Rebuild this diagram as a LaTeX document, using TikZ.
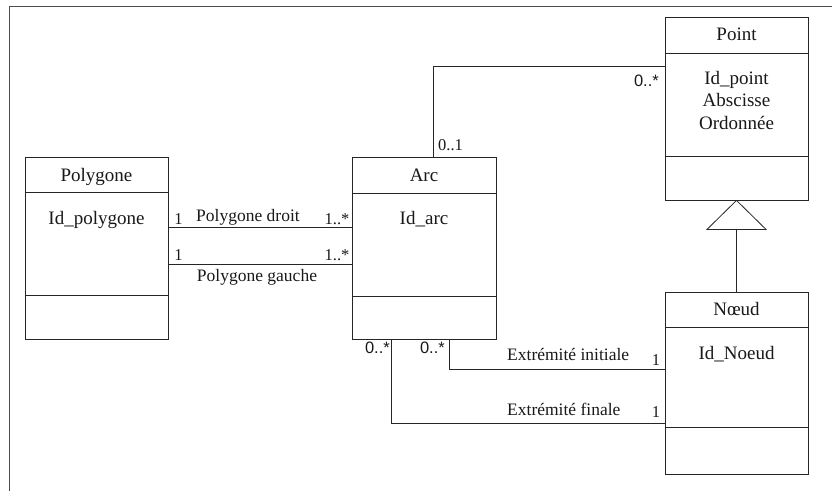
\documentclass[tikz,border=0pt]{standalone}
\usepackage{fontspec}
\setmainfont{Liberation Serif}
\newfontfamily\mulsans{Liberation Sans}
\usetikzlibrary{calc}
\newcommand\ftcls{\fontsize{19}{22.4}\selectfont}
\newcommand\ftasc{\fontsize{17.5}{20}\selectfont}
\newcommand\ftmul{\fontsize{16.5}{19}\selectfont}
\begin{document}
\begin{tikzpicture}[x=1pt,y=-1pt,
  classbox/.style={draw=black!85, line width=0.8pt, minimum width=143pt, inner sep=0pt},
  sepline/.style={draw=black!85, line width=0.8pt},
  conn/.style={draw=black!85, line width=0.8pt},
  txt/.style={inner sep=0pt, anchor=base, text=black!90},
  ctxt/.style={txt, font=\ftcls},
  atxt/.style={txt, font=\ftasc},
  mtxt/.style={txt, font=\ftmul},
  stxt/.style={txt, font=\ftmul\mulsans}]
\useasboundingbox (0,0) rectangle (832,491);
\fill[white] (0,0) rectangle (832,491);
% frame
\coordinate (fbl) at (9,491);
\coordinate (ftl) at (9,6);
\coordinate (ftr) at (832,6);
\draw[draw=black!70, line width=1pt] (fbl) -- (ftl) -- (ftr);

% class boxes
\node[classbox, minimum height=182pt] (poly) at (96.5,248) {};
\node[classbox, minimum width=144pt, minimum height=182pt] (arc) at (424,248) {};
\node[classbox, minimum height=183pt] (point) at (736.5,108.5) {};
\node[classbox, minimum height=182pt] (noeud) at (736.5,383) {};

% compartments
\draw[sepline] ([yshift=-36pt]poly.north west) -- ([yshift=-36pt]poly.north east);
\draw[sepline] ([yshift=-139pt]poly.north west) -- ([yshift=-139pt]poly.north east);
\draw[sepline] ([yshift=-37pt]arc.north west) -- ([yshift=-37pt]arc.north east);
\draw[sepline] ([yshift=-140pt]arc.north west) -- ([yshift=-140pt]arc.north east);
\draw[sepline] ([yshift=-37pt]point.north west) -- ([yshift=-37pt]point.north east);
\draw[sepline] ([yshift=-140pt]point.north west) -- ([yshift=-140pt]point.north east);
\draw[sepline] ([yshift=-36pt]noeud.north west) -- ([yshift=-36pt]noeud.north east);
\draw[sepline] ([yshift=-136pt]noeud.north west) -- ([yshift=-136pt]noeud.north east);

% class texts
\node[ctxt] (polyname) at (96.5,181.5) {Polygone};
\node[ctxt] (polyattr) at (96.5,224) {Id\_polygone};
\node[ctxt] (arcname) at (424,181) {Arc};
\node[ctxt] (arcattr) at (424,224) {Id\_arc};
\node[ctxt] (pointname) at (736.5,40.5) {Point};
\node[ctxt] (pointa) at (736.5,84.3) {Id\_point};
\node[ctxt] (pointb) at (736.5,106.7) {Abscisse};
\node[ctxt] (pointc) at (736.5,129) {Ordonnée};
\node[ctxt] (noeudname) at (736.5,315) {Nœud};
\node[ctxt] (noeudattr) at (736.5,359) {Id\_Noeud};

% generalisation Noeud -> Point
\coordinate (tbase) at ($(point.south)+(0,29)$);
\draw[conn, fill=white] (point.south) -- ++(-29.5,29) -- ++(59,0) -- cycle;
\draw[conn] (tbase) -- (noeud.north);

% Polygone -- Arc
\draw[conn] ([yshift=21pt]poly.east) -- ([yshift=21pt]arc.west);
\draw[conn] ([yshift=-16pt]poly.east) -- ([yshift=-16pt]arc.west);
\node[mtxt] (m1) at (178.5,224.3) {1};
\node[atxt] (lpd) at (248,221.7) {Polygone droit};
\node[mtxt] (m2) at (337,224) {1..*};
\node[mtxt] (m3) at (178.5,260) {1};
\node[mtxt] (m4) at (337,260) {1..*};
\node[atxt] (lpg) at (257,281.7) {Polygone gauche};

% Arc -- Point
\draw[conn] ([xshift=9pt]arc.north) |- ([yshift=42.5pt]point.west);
\node[mtxt, anchor=base west] (m5) at (438,150.7) {0..1};
\node[stxt, anchor=base east] (m6) at (659,86) {0..*};

% Arc -- Noeud
\draw[conn] ([xshift=25pt]arc.south) |- ([yshift=14pt]noeud.west);
\draw[conn] ([xshift=-33pt]arc.south) |- ([yshift=-40pt]noeud.west);
\node[stxt, anchor=base east] (m7) at (390,353) {0..*};
\node[stxt, anchor=base east] (m8) at (445,353) {0..*};
\node[atxt, anchor=base west] (lei) at (507,360) {Extrémité initiale};
\node[mtxt] (m9) at (656,365) {1};
\node[atxt, anchor=base west] (lef) at (507,415) {Extrémité finale};
\node[mtxt] (m10) at (656,417) {1};
\end{tikzpicture}
\end{document}
